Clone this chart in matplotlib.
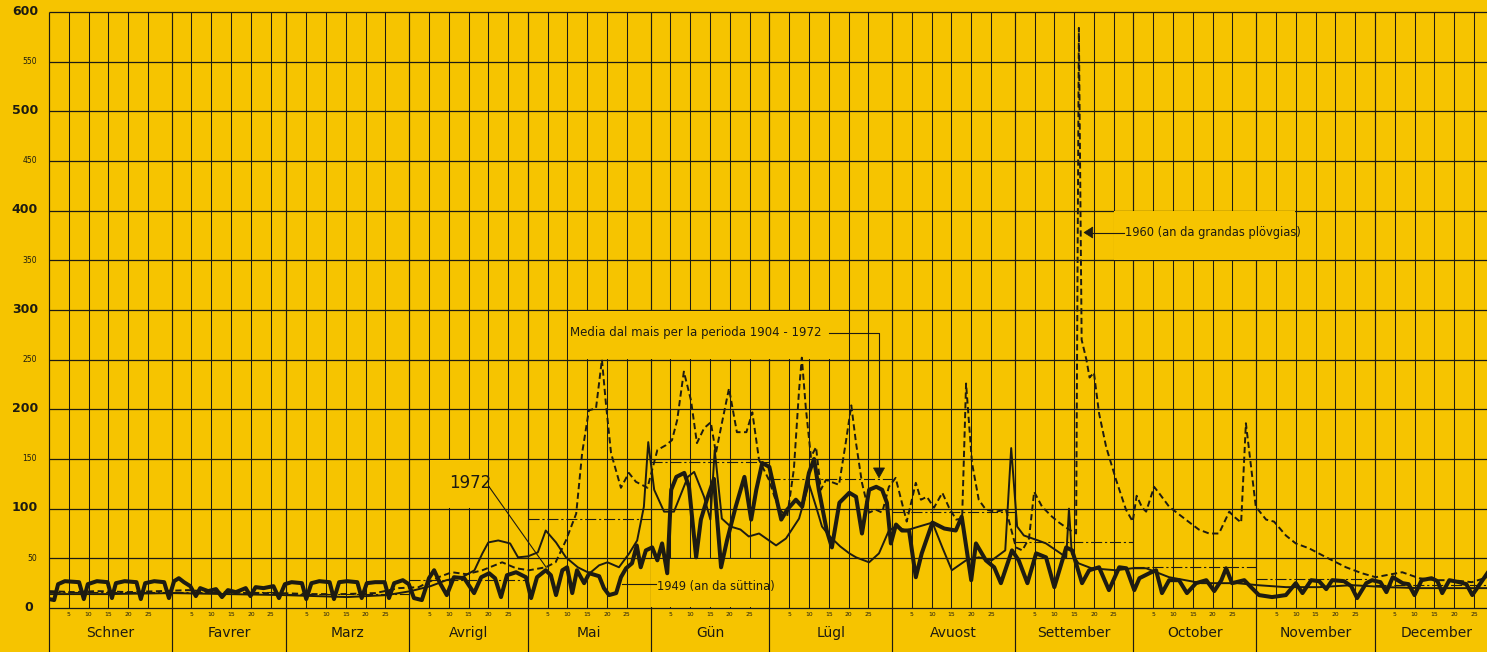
import matplotlib
matplotlib.use("Agg")
import matplotlib.pyplot as plt
from matplotlib.patches import Rectangle, Polygon
import numpy as np

BG = "#F6C400"
INK = "#1d1b12"

# --- calendar (leap year) ---------------------------------------------------
months = ["Schner", "Favrer", "Marz", "Avrigl", "Mai", "Gün",
          "Lügl", "Avuost", "Settember", "October", "November", "December"]
month_len = [31, 29, 31, 30, 31, 30, 31, 31, 30, 31, 30, 31]
day_marks = [5, 10, 15, 20, 25]

y_major = [0, 100, 200, 300, 400, 500, 600]
y_minor = [50, 150, 250, 350, 450, 550]

# monthly mean 1904-1972
monthly_mean = [16, 16, 14, 28, 90, 147, 130, 97, 66, 41, 29, 23]

# --- daily discharge (day of year, value) -----------------------------------
# 1960 (an da grandas plövgias)
y1960_day = [0, 6.0, 12.1, 20.1, 28.1, 35.2, 42.2, 50.2, 58.2, 66.3, 74.3, 82.4,
             88.4, 93.4, 98.4, 101.8, 105.5, 109.5, 114.5, 118.0, 121.3, 125.5,
             128.0, 130.6, 133.2, 134.7, 136.4, 138.2, 139.7, 140.7, 142.0, 144.5,
             146.5, 148.3, 149.8, 151.2, 153.7, 155.9, 157.4, 158.7, 160.4, 162.2,
             163.7, 165.5, 167.2, 168.5, 170.0, 171.8, 173.8, 176.2, 177.7, 179.4,
             181.9, 183.3, 184.6, 186.5, 188.2, 189.5, 190.2, 191.2, 192.5, 193.8,
             195.0, 196.3, 199.6, 201.4, 202.7, 203.9, 205.4, 207.2, 208.9, 210.5,
             212.2, 213.9, 215.5, 216.7, 219.0, 220.3, 221.8, 223.6, 225.7, 227.4,
             229.2, 230.7, 231.7, 233.2, 234.9, 236.7, 239.2, 241.8, 244.3, 245.9,
             247.6, 248.9, 250.9, 253.4, 255.2, 257.7, 259.5, 260.2, 260.9, 262.1,
             262.9, 264.0, 265.3, 267.1, 269.6, 272.1, 273.8, 274.8, 276.2, 277.2,
             279.2, 280.4, 283.0, 287.2, 290.5, 293.1, 295.6, 298.2, 299.4, 301.2,
             302.4, 304.9, 307.5, 309.5, 312.5, 315.0, 318.4, 322.7, 327.7, 331.7,
             335.2, 337.8, 341.9, 346.2, 350.5, 354.5, 359.5, 363.4]
y1960_val = [17, 16, 17, 16, 17, 18, 16, 15, 15, 14, 14, 15,
             20, 21, 31, 36, 34, 38, 46, 40, 38, 41,
             46, 68, 95, 156, 199, 201, 250, 206, 156, 121,
             136, 127, 124, 121, 159, 164, 169, 189, 238, 209,
             166, 181, 187, 156, 186, 221, 177, 177, 197, 149,
             129, 112, 99, 92, 140, 219, 252, 202, 152, 162,
             119, 129, 124, 169, 204, 166, 126, 96, 99, 96,
             122, 131, 106, 87, 126, 109, 112, 101, 116, 101,
             89, 90, 226, 146, 109, 99, 97, 99, 61, 58,
             70, 117, 102, 92, 86, 79, 75, 584, 270, 250,
             232, 237, 196, 162, 129, 99, 87, 113, 101, 97,
             122, 116, 102, 89, 79, 75, 75, 97, 92, 86,
             186, 102, 89, 87, 73, 65, 60, 51, 41, 35,
             31, 33, 36, 30, 28, 28, 26, 31]

# 1972
y1972_day = [0, 1.3, 2.3, 4.0, 7.6, 8.8, 9.8, 12.1, 14.8, 15.9, 16.9, 19.1, 22.1,
             23.2, 24.3, 26.6, 29.1, 30.3, 31.6, 32.8, 34.1, 35.7, 37.1, 38.2, 40.2,
             42.2, 43.7, 45.2, 47.2, 49.7, 50.9, 52.2, 54.2, 56.7, 58.1, 59.6, 61.3,
             63.9, 65.0, 66.3, 68.3, 70.9, 72.0, 73.3, 75.3, 77.9, 79.0, 80.3, 82.4,
             84.8, 85.9, 87.2, 89.4, 90.9,
             92.2, 94.2, 96.0, 97.3, 98.8, 100.5, 102.3, 104.9, 107.4, 109.2,
             111.2, 112.7, 114.2, 115.7, 118.0, 120.5, 121.8, 123.3, 125.5, 126.8,
             128.1, 129.7, 130.9, 132.2, 133.4, 134.5, 135.2, 136.5, 139.0, 140.2,
             141.5, 143.3, 144.5, 145.8, 147.3, 148.5, 149.5, 150.8, 152.4, 153.7,
             154.9, 156.2, 157.2, 158.5, 160.5, 161.7, 163.5, 164.7, 166.2, 168.0,
             169.8, 171.3, 173.5, 175.7, 177.4, 178.7, 180.2, 182.0, 183.7, 185.0,
             186.5, 188.7, 190.3, 192.0, 193.3, 194.5, 196.5, 197.8, 199.7, 202.2,
             203.9, 205.4, 207.2, 209.0, 210.5, 211.7, 212.7, 214.0, 215.5, 217.3,
             219.0, 220.5, 223.2, 226.2, 229.1, 230.6, 233.0, 234.2, 236.7, 238.8,
             240.5, 243.3, 245.0, 247.2, 249.4, 251.9, 254.0, 257.0, 258.5, 261.0,
             262.8, 265.3, 267.8, 270.4, 272.2, 274.2, 275.5, 278.0, 279.7, 281.2,
             283.0, 285.5, 287.5, 289.8, 292.4, 294.4, 296.2, 297.4, 298.9, 302.0,
             303.7, 305.7, 309.0, 312.5, 315.0, 316.7, 318.9, 320.9, 322.7, 324.2,
             327.2, 329.0, 330.5, 332.8, 334.3, 336.4, 337.9, 339.5, 342.0, 343.5,
             345.0, 346.8, 349.3, 350.8, 352.0, 353.8, 356.3, 358.1, 359.6, 362.2,
             363.4]
y1972_val = [9, 8, 24, 27, 26, 9, 24, 27, 26, 10, 25, 27, 26,
             9, 25, 27, 26, 10, 27, 30, 26, 22, 12, 20, 17,
             19, 11, 18, 16, 20, 12, 21, 20, 22, 10, 24, 26,
             25, 9, 25, 27, 26, 9, 26, 27, 26, 10, 25, 26,
             26, 10, 25, 28, 24,
             10, 8, 30, 38, 25, 13, 31, 30, 15, 31,
             35, 30, 11, 33, 36, 31, 10, 31, 38, 33,
             13, 38, 41, 15, 38, 30, 25, 35, 32, 20,
             13, 15, 31, 40, 45, 63, 41, 58, 61, 48,
             65, 35, 119, 132, 136, 122, 51, 89, 109, 130,
             41, 68, 102, 132, 89, 119, 146, 142, 112, 89,
             99, 109, 102, 136, 150, 119, 78, 61, 106, 116,
             112, 75, 119, 122, 119, 106, 65, 84, 78, 78,
             31, 55, 86, 80, 78, 92, 28, 65, 48, 41,
             25, 58, 48, 25, 55, 51, 21, 61, 58, 25,
             38, 41, 18, 41, 40, 18, 30, 35, 38, 15,
             28, 28, 15, 25, 28, 17, 28, 40, 25, 28,
             21, 13, 11, 13, 25, 15, 28, 27, 19, 28,
             27, 22, 10, 25, 28, 26, 16, 31, 25, 24,
             13, 28, 30, 27, 15, 28, 26, 24, 13, 28,
             35]

# 1949 (an da süttina)
y1949_day = [0, 15.1, 31.1, 45.2, 59.3, 75.3, 85.4, 91.4, 96.4, 100.4, 104.4,
             107.5, 109.5, 111.0, 113.5, 116.5, 118.5, 121.0, 123.5, 125.5, 128.1,
             130.6, 133.6, 136.6, 139.0, 141.1, 144.0, 146.6, 148.6, 150.3, 151.4,
             152.9, 155.4, 157.9, 161.4, 163.0, 165.5, 167.1, 168.2, 170.0, 172.2,
             174.7, 176.8, 179.4, 183.7, 186.2, 189.5, 192.0, 193.8, 195.3, 197.3,
             199.9, 202.2, 203.9, 207.2, 209.7, 212.2, 214.0, 216.5, 219.8, 223.2,
             225.7, 228.1, 231.7, 234.9, 238.2, 241.6, 243.1, 244.6, 246.3, 249.9,
             251.9, 255.2, 257.0, 257.7, 258.4, 260.1, 263.4, 269.6, 273.7, 277.2,
             283.0, 291.2, 300.2, 305.3, 312.5, 320.9, 329.2, 337.9, 346.2, 354.5,
             363.4]
y1949_val = [14, 14, 15, 14, 13, 11, 13, 17, 22, 28, 31,
             38, 55, 66, 68, 65, 51, 52, 56, 78, 66,
             51, 41, 35, 43, 46, 41, 55, 68, 102, 167,
             119, 97, 97, 132, 137, 112, 89, 159, 90, 82,
             79, 72, 75, 63, 70, 90, 125, 102, 82, 72,
             62, 55, 51, 46, 55, 78, 82, 78, 82, 86,
             61, 38, 48, 51, 48, 58, 161, 82, 73, 68,
             65, 56, 51, 100, 55, 45, 40, 38, 40, 40,
             31, 25, 25, 23, 21, 21, 23, 21, 20, 20,
             20]

# --- figure ---------------------------------------------------------------
W, H = 1487, 652
fig = plt.figure(figsize=(W / 100, H / 100), dpi=100, facecolor=BG)
ax = fig.add_axes([49 / W, 44 / H, 1438 / W, 596 / H])
ax.set_facecolor(BG)
x_max = 1438 / 3.958
ax.set_xlim(0, x_max)
ax.set_ylim(0, 600)
ax.set_axis_off()

starts = np.concatenate([[0], np.cumsum(month_len)])

# grid
for v in range(0, 601, 50):
    ax.plot([0, x_max], [v, v], color=INK, lw=0.9, zorder=1, clip_on=False,
            solid_capstyle="butt")
for s in starts[:-1]:
    ax.plot([s, s], [-50, 600], color=INK, lw=0.85, zorder=1, clip_on=False,
            solid_capstyle="butt")
    for d in day_marks:
        if s + d < x_max:
            ax.plot([s + d, s + d], [0, 600], color=INK, lw=0.75, zorder=1,
                    clip_on=False, solid_capstyle="butt")

# label panels that blank out the grid
for (x0, x1, y0, y1) in [(131, 202, 250, 300), (269, 315, 350, 400),
                         (152, 182, 0, 50), (96, 111, 100, 150)]:
    ax.add_patch(Rectangle((x0 + 0.2, y0 + 0.7), x1 - x0 - 0.4, y1 - y0 - 1.4,
                           facecolor=BG, edgecolor="none", zorder=1.5))

# axis labels
for v in y_major:
    ax.text(-2.8 if v else -4.0, v + 1, str(v), ha="right", va="center",
            fontsize=9, fontweight="bold", color=INK, clip_on=False)
for v in y_minor:
    ax.text(-3.0, v, str(v), ha="right", va="center", fontsize=5.5,
            color=INK, clip_on=False)
for i, (s, n) in enumerate(zip(starts[:-1], month_len)):
    for d in day_marks:
        if s + d < x_max:
            ax.text(s + d, -7, str(d), ha="center", va="center", fontsize=4.3,
                    color=INK, clip_on=False)
    ax.text(s + n / 2, -25, months[i], ha="center", va="center", fontsize=10,
            color=INK, clip_on=False)

# monthly means
for i, m in enumerate(monthly_mean):
    ax.plot([starts[i], starts[i + 1]], [m, m], color=INK, lw=0.8,
            ls=(0, (10, 2.5, 2, 2.5)), zorder=2)

# series
ax.plot(y1960_day, y1960_val, color=INK, lw=1.4, ls=(0, (3.2, 1.8)), zorder=3)
ax.plot(y1949_day, y1949_val, color=INK, lw=1.4, zorder=3,
        solid_joinstyle="round")
ax.plot(y1972_day, y1972_val, color=INK, lw=2.9, zorder=3.2,
        solid_joinstyle="round")

# annotations
ax.text(131.6, 277, "Media dal mais per la perioda 1904 - 1972", fontsize=8.5,
        ha="left", va="center", color=INK, zorder=4)
ax.plot([197.0, 209.7, 209.7], [277, 277, 140], color=INK, lw=0.8, zorder=4)
ax.add_patch(Polygon([[208.3, 141], [211.1, 141], [209.7, 131]], closed=True,
                     facecolor=INK, edgecolor=INK, lw=0.5, zorder=4))

ax.text(271.8, 378, "1960 (an da grandas plövgias)", fontsize=8.3, ha="left",
        va="center", color=INK, zorder=4)
ax.plot([262.9, 271.5], [378, 378], color=INK, lw=0.8, zorder=4)
ax.add_patch(Polygon([[261.5, 378], [263.7, 383.5], [263.7, 372.5]], closed=True,
                     facecolor=INK, edgecolor=INK, lw=0.5, zorder=4))

ax.text(153.6, 22, "1949 (an da süttina)", fontsize=8.3, ha="left",
        va="center", color=INK, zorder=4)
ax.plot([144.8, 153.4], [24, 24], color=INK, lw=0.8, zorder=4)

ax.text(101.1, 126, "1972", fontsize=12, ha="left", va="center", color=INK,
        zorder=4)
ax.plot([111.2, 125.6], [122, 41], color=INK, lw=0.8, zorder=4)

fig.savefig("out.png", dpi=100, facecolor=BG)
